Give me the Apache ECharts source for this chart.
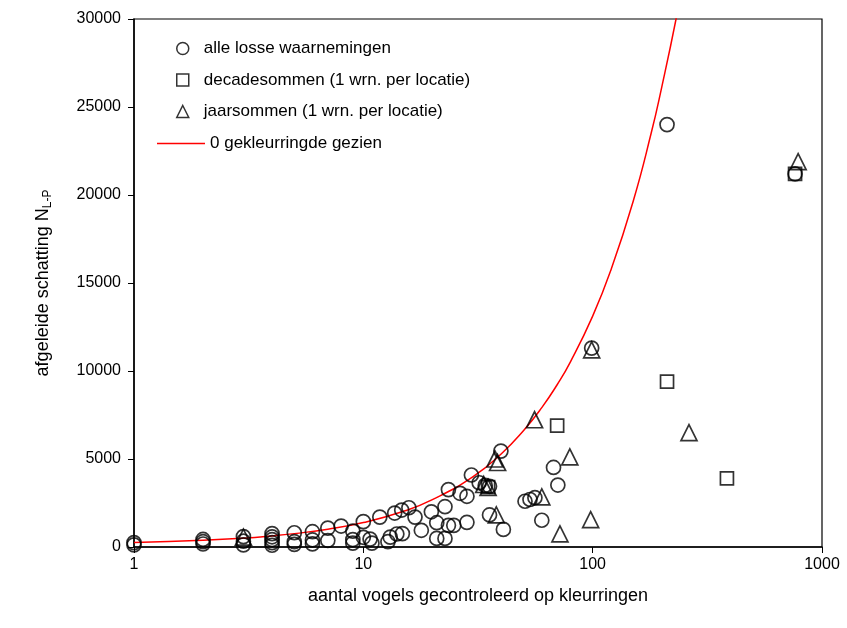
<!DOCTYPE html>
<html>
<head>
<meta charset="utf-8">
<script src="https://cdn.jsdelivr.net/npm/echarts@6/dist/echarts.min.js"></script>
<style>html,body{margin:0;padding:0;background:#fff;}#c{width:847px;height:628px;}</style>
</head>
<body>
<div id="c"></div>
<script>
var xTicks = [1, 10, 100, 1000];
var yTicks = [0, 5000, 10000, 15000, 20000, 25000, 30000];

var seriesNames = ['alle losse waarnemingen', 'decadesommen (1 wrn. per locatie)', 'jaarsommen (1 wrn. per locatie)', '0 gekleurringde gezien'];

var circlePoints = [
  [1,250],[1,120],
  [2,430],[2,300],[2,170],
  [3,590],[3,330],[3,120],
  [4,760],[4,580],[4,420],[4,250],[4,100],
  [5,810],[5,300],[5,150],
  [6,870],[6,400],[6,180],
  [7,1070],[7,370],
  [8,1190],
  [9,900],[9,420],[9,220],
  [10,1440],[10,550],[10.7,450],[10.9,220],
  [11.8,1700],
  [12.8,300],[13.1,560],[14,740],[14.8,760],
  [13.7,1930],[14.7,2100],[15.8,2230],
  [16.8,1700],
  [17.9,950],
  [19.8,2000],
  [20.9,1380],
  [20.9,490],[22.7,490],
  [22.7,2290],
  [23.5,3260],
  [23.5,1230],[24.8,1230],
  [26.4,3050],[28.3,2880],
  [28.3,1400],
  [29.6,4090],
  [32,3650],[34,3500],[35.5,3450],
  [35.5,1820],
  [39.8,5450],
  [40.8,1000],
  [50.7,2600],[53.3,2700],[56,2800],
  [60,1520],
  [67.5,4520],
  [70.5,3520],
  [99,11300],
  [211,24000],
  [763,21200]
];

var squarePoints = [
  [35,3400],[70,6900],[211,9400],[385,3900],[763,21200]
];

var trianglePoints = [
  [3,560],[33.5,3550],[35,3380],[37.5,5000],[38.5,4800],[38,1820],
  [55.8,7230],[60,2850],[72,750],[79.5,5120],[98,1550],[99,11200],
  [263,6500],[787,21900]
];

var curveX = [1, 2, 3, 4, 5, 7, 10, 15, 20, 30, 40, 50, 60, 70, 80, 100, 120, 150, 180, 200, 231, 245];
var curveY = [250, 380, 500, 630, 760, 1010, 1390, 2030, 2690, 3990, 5300, 6620, 7920, 9220, 10520, 13120, 15720, 19620, 23520, 26120, 30000, 31900];

var curvePoints = curveX.map(function (x, i) { return [x, curveY[i]]; });

var FONT = 'Liberation Sans';
var chart = echarts.init(document.getElementById('c'), null, {renderer: 'canvas'});

var markerStyle = {color: 'rgba(255,255,255,0)', borderColor: '#000', borderWidth: 1.7};
var legendMarker = {color: 'rgba(255,255,255,0)', borderColor: '#000', borderWidth: 1.5};
var legendText = {fontFamily: FONT, fontSize: 17, color: '#000'};

chart.setOption({
  animation: false,
  backgroundColor: '#fff',
  textStyle: {fontFamily: FONT, color: '#000'},
  grid: {left: 134, right: 25, top: 19, bottom: 81, show: true, borderColor: '#000', borderWidth: 1.2, backgroundColor: 'transparent'},
  legend: [
    {
      orient: 'vertical',
      left: 171,
      top: 35,
      itemWidth: 12,
      itemHeight: 12,
      itemGap: 14.5,
      textStyle: {fontFamily: FONT, fontSize: 17, color: '#000', padding: [0, 0, 0, 10]},
      data: [
        {name: seriesNames[0], icon: 'circle', itemStyle: legendMarker},
        {name: seriesNames[1], icon: 'rect', itemStyle: legendMarker},
        {name: seriesNames[2], icon: 'triangle', itemStyle: legendMarker}
      ]
    },
    {
      orient: 'vertical',
      left: 152,
      top: 130,
      itemWidth: 48,
      itemHeight: 12,
      textStyle: legendText,
      data: [
        {name: seriesNames[3], icon: 'path://M0,0L48,0L48,1.5L0,1.5Z', itemStyle: {color: '#ff0000', borderWidth: 0}}
      ]
    }
  ],
  xAxis: {
    type: 'log',
    logBase: 10,
    min: xTicks[0],
    max: xTicks[xTicks.length - 1],
    name: 'aantal vogels gecontroleerd op kleurringen',
    nameLocation: 'middle',
    nameGap: 40,
    nameTextStyle: {fontFamily: FONT, fontSize: 18, color: '#000'},
    axisLine: {show: true, onZero: false, lineStyle: {color: '#000', width: 1.5}},
    axisTick: {show: true, inside: false, length: 6, lineStyle: {color: '#000', width: 1}},
    minorTick: {show: false},
    splitLine: {show: false},
    axisLabel: {fontFamily: FONT, fontSize: 16, color: '#000', margin: 10, formatter: function (v) { return String(Math.round(v)); }}
  },
  yAxis: {
    type: 'value',
    min: yTicks[0],
    max: yTicks[yTicks.length - 1],
    interval: 5000,
    name: 'afgeleide schatting N{s|L-P}',
    nameLocation: 'middle',
    nameGap: 80,
    nameTextStyle: {
      fontFamily: FONT, fontSize: 18, color: '#000', lineHeight: 22,
      rich: {s: {fontFamily: FONT, fontSize: 12, color: '#000', verticalAlign: 'bottom', lineHeight: 22}}
    },
    axisLine: {show: true, lineStyle: {color: '#000', width: 1.5}},
    axisTick: {show: true, inside: false, length: 6, lineStyle: {color: '#000', width: 1}},
    splitLine: {show: false},
    axisLabel: {fontFamily: FONT, fontSize: 16, color: '#000', margin: 13, formatter: function (v) { return String(v); }}
  },
  series: [
    {
      name: seriesNames[0], type: 'scatter', symbol: 'circle', symbolSize: 14,
      itemStyle: markerStyle, data: circlePoints, z: 3
    },
    {
      name: seriesNames[1], type: 'scatter', symbol: 'rect', symbolSize: 13,
      itemStyle: markerStyle, data: squarePoints, z: 3
    },
    {
      name: seriesNames[2], type: 'scatter', symbol: 'triangle', symbolSize: 16,
      itemStyle: markerStyle, data: trianglePoints, z: 3
    },
    {
      name: seriesNames[3], type: 'line', symbol: 'none', smooth: true,
      lineStyle: {color: '#ff0000', width: 1.5}, itemStyle: {color: '#ff0000'},
      data: curvePoints, z: 2, clip: true
    }
  ]
});
</script>
</body>
</html>
